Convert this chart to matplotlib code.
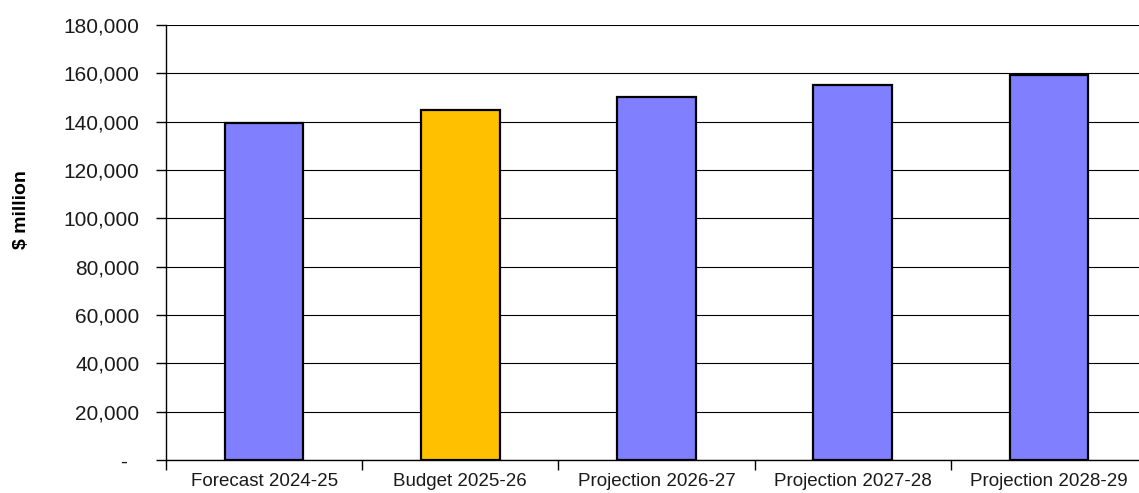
import matplotlib
matplotlib.use("Agg")
import matplotlib.pyplot as plt
from matplotlib.ticker import FuncFormatter, MultipleLocator

plt.rcParams['font.family'] = ['Liberation Sans', 'DejaVu Sans']

categories = ["Forecast 2024-25", "Budget 2025-26", "Projection 2026-27",
              "Projection 2027-28", "Projection 2028-29"]
values = [139500, 145000, 150400, 155200, 159400]
colors = ["#8080FF", "#FFC000", "#8080FF", "#8080FF", "#8080FF"]

fig = plt.figure(figsize=(11.39, 4.93), dpi=100)
ax = fig.add_axes([166 / 1139, 33 / 493, 981 / 1139, 435 / 493])

x = list(range(len(categories)))
ax.bar(x, values, width=0.4, color=colors, edgecolor="black", linewidth=1.6, zorder=3)

ax.set_ylim(0, 180000)
ax.set_xlim(-0.5, len(categories) - 0.5)
ax.yaxis.set_major_locator(MultipleLocator(20000))
ax.yaxis.set_major_formatter(FuncFormatter(lambda v, p: "-  " if v == 0 else f"{v:,.0f}"))
ax.grid(axis="y", color="black", linewidth=0.8, zorder=0)
ax.set_axisbelow(True)

# category boundaries carry the tick marks, centres carry the labels
ax.set_xticks([i - 0.5 for i in range(len(categories) + 1)])
ax.set_xticklabels([])
ax.set_xticks(x, minor=True)
ax.set_xticklabels(categories, minor=True, fontsize=13.5, color="#1a1a1a")
ax.tick_params(axis="x", which="minor", length=0, pad=9)
ax.tick_params(axis="x", which="major", length=7, width=1, color="black", direction="out")
ax.tick_params(axis="y", length=7, width=1, color="black", pad=12, labelsize=15,
               labelcolor="#1a1a1a")

for side in ("top", "right"):
    ax.spines[side].set_visible(False)
for side in ("left", "bottom"):
    ax.spines[side].set_color("black")
    ax.spines[side].set_linewidth(1)

fig.text(21 / 1139, 1 - 210 / 493, "$ million", rotation=90, fontsize=14,
         fontweight="bold", ha="center", va="center")

fig.savefig("out.png", dpi=100)
